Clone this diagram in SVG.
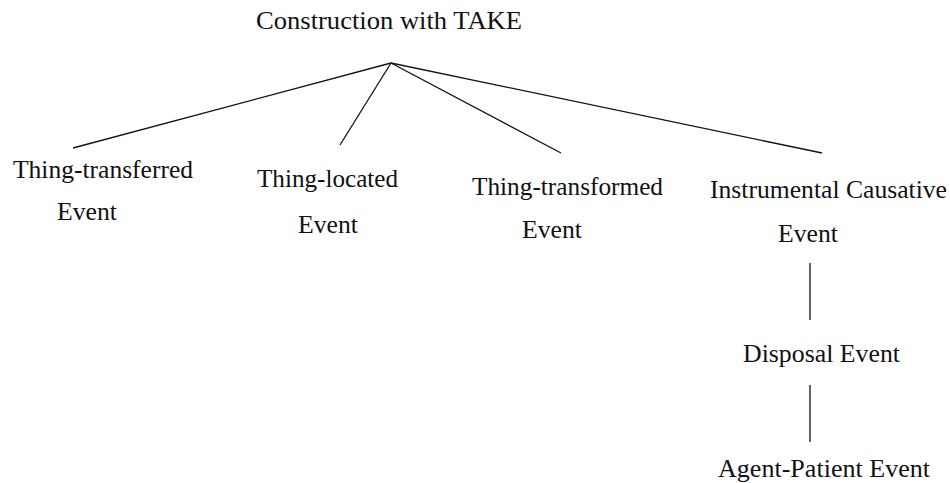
<svg xmlns="http://www.w3.org/2000/svg" width="950" height="483" viewBox="0 0 950 483">
  <style>
    text { font-family: "Liberation Serif", "Times New Roman", serif; font-size: 25.5px; fill: #111; }
    .edge { stroke: #111; stroke-width: 1.3; fill: none; }
  </style>
  <rect width="950" height="483" fill="#fff"/>
  <g id="connectors">
    <line class="edge" x1="391" y1="63" x2="73" y2="148"/>
    <line class="edge" x1="391" y1="63" x2="340" y2="145"/>
    <line class="edge" x1="391" y1="63" x2="561" y2="153"/>
    <line class="edge" x1="391" y1="63" x2="822" y2="153"/>
    <line class="edge" x1="810" y1="263" x2="810" y2="320"/>
    <line class="edge" x1="810" y1="385" x2="810" y2="442"/>
  </g>
  <g id="root"><text x="256" y="29" textLength="266" lengthAdjust="spacingAndGlyphs">Construction with TAKE</text></g>
  <g id="thing-transferred">
    <text x="13" y="178" textLength="180" lengthAdjust="spacingAndGlyphs">Thing-transferred</text>
    <text x="57" y="220" textLength="60" lengthAdjust="spacingAndGlyphs">Event</text>
  </g>
  <g id="thing-located">
    <text x="257" y="187" textLength="141" lengthAdjust="spacingAndGlyphs">Thing-located</text>
    <text x="298" y="233" textLength="60" lengthAdjust="spacingAndGlyphs">Event</text>
  </g>
  <g id="thing-transformed">
    <text x="472" y="195" textLength="191" lengthAdjust="spacingAndGlyphs">Thing-transformed</text>
    <text x="522" y="238" textLength="60" lengthAdjust="spacingAndGlyphs">Event</text>
  </g>
  <g id="instrumental-causative">
    <text x="710" y="198" textLength="237" lengthAdjust="spacingAndGlyphs">Instrumental Causative</text>
    <text x="778" y="242" textLength="60" lengthAdjust="spacingAndGlyphs">Event</text>
  </g>
  <g id="disposal"><text x="743" y="362" textLength="157" lengthAdjust="spacingAndGlyphs">Disposal Event</text></g>
  <g id="agent-patient"><text x="718" y="477" textLength="212" lengthAdjust="spacingAndGlyphs">Agent-Patient Event</text></g>
</svg>
